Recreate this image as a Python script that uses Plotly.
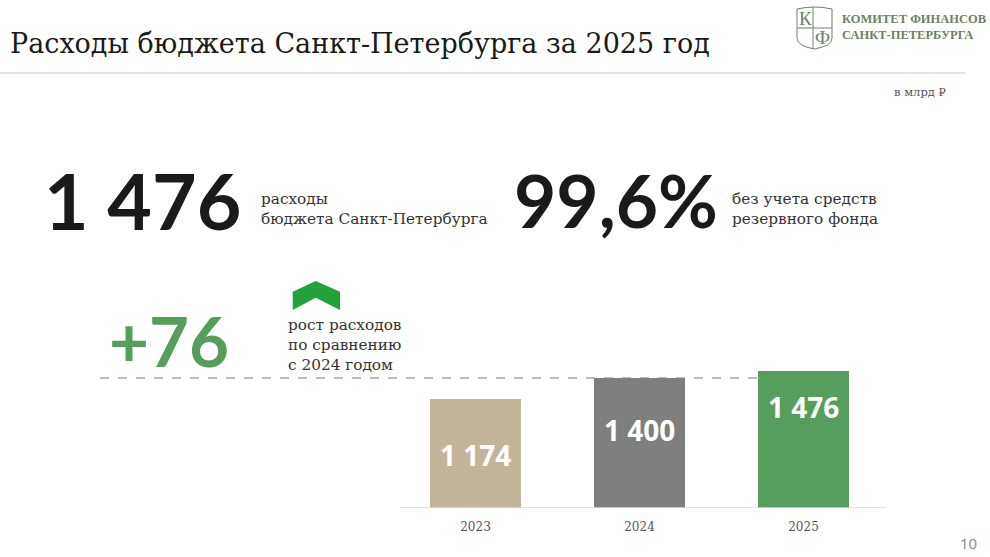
import plotly.graph_objects as go

# data
years = ["2023", "2024", "2025"]
spending = [1174, 1400, 1476]
bar_labels = ["1 174", "1 400", "1 476"]
bar_colors = ["#c3b59b", "#7f7f7f", "#569e5b"]
label_shift = [-56, -52, -36]

total_text = "1 476"
share_text = "99,6%"
growth_text = "+76"

W, H = 990, 557
BOTTOM = 508          # pixel row of the bar baseline
PX_PER_UNIT = 130 / 1400
UNIT_PX = 164         # pixels between bar centres
FIRST_CENTRE = 475.5


def px(x):
    return x / W


def py(y):
    return (BOTTOM - y) / BOTTOM


def cat_x(x_pixel):
    return (x_pixel - FIRST_CENTRE) / UNIT_PX


SERIF = "DejaVu Serif"
SANS = "Lato"

fig = go.Figure()

fig.add_trace(go.Bar(
    x=years,
    y=spending,
    marker=dict(color=bar_colors, line=dict(width=0)),
    width=0.555,
    hoverinfo="skip",
))

# labels inside bars
for i, (val, lab, sh) in enumerate(zip(spending, bar_labels, label_shift)):
    fig.add_annotation(
        x=i, y=val, text=lab, showarrow=False, yshift=sh, xanchor="center", yanchor="middle",
        font=dict(family="Open Sans", size=28, color="white", weight="bold"),
    )

# dashed line at the 2024 level
fig.add_shape(type="line", x0=cat_x(100), x1=2 - 0.555 / 2, y0=spending[1], y1=spending[1],
              line=dict(color="#a8a8a8", width=1.5, dash="dash"), layer="below")

# baseline
fig.add_shape(type="line", x0=cat_x(400), x1=cat_x(886), y0=0, y1=0,
              line=dict(color="#ddd8cc", width=1.5), layer="above")


def note(x, y, text, font, xanchor="left", align="left"):
    fig.add_annotation(x=px(x), y=py(y), xref="paper", yref="paper", xanchor=xanchor, yanchor="middle",
                       text=text, showarrow=False, align=align, font=font)


# header
note(8, 44, "Расходы бюджета Санкт-Петербурга за 2025 год",
     dict(family=SERIF, size=27, color="#1a1a1a"))
fig.add_shape(type="line", xref="paper", yref="paper", x0=0, x1=px(965), y0=py(73), y1=py(73),
              line=dict(color="#cdc9bc", width=1))

# logo
logo_col = "#6f8163"
fig.add_shape(type="path", xref="paper", yref="paper",
              path=("M {a},{b} Q {c},{d} {e},{b} L {e},{f} Q {e},{g} {c},{h} Q {a},{g} {a},{f} Z").format(
                  a=px(797), b=py(9), c=px(814.5), d=py(5), e=px(832), f=py(38), g=py(46), h=py(49)),
              line=dict(color=logo_col, width=1))
fig.add_shape(type="line", xref="paper", yref="paper", x0=px(813), x1=px(813), y0=py(7), y1=py(48.5),
              line=dict(color=logo_col, width=1))
fig.add_shape(type="line", xref="paper", yref="paper", x0=px(797), x1=px(832), y0=py(28), y1=py(28),
              line=dict(color=logo_col, width=1))
note(805, 18, "К", dict(family="Liberation Serif", size=19, color=logo_col), xanchor="center")
note(822.5, 38, "Ф", dict(family="Liberation Serif", size=19, color=logo_col), xanchor="center")
note(840, 27, "<b>КОМИТЕТ ФИНАНСОВ<br>САНКТ-ПЕТЕРБУРГА</b>",
     dict(family="Liberation Serif", size=12.5, color=logo_col))

note(948, 92, "в млрд ₽", dict(family=SERIF, size=11.5, color="#555555"), xanchor="right", align="right")

# headline figures
note(42, 200, total_text, dict(family=SANS, size=77, color="#1a1a1a", weight="bold"))
note(259, 209, "расходы<br>бюджета Санкт-Петербурга", dict(family=SERIF, size=15.3, color="#333333"))
note(512, 200, share_text, dict(family=SANS, size=73, color="#1a1a1a", weight="bold"))
note(730, 209, "без учета средств<br>резервного фонда", dict(family=SERIF, size=15.3, color="#333333"))

# growth block
note(107, 341, growth_text, dict(family=SANS, size=69, color="#569e5b", weight="bold"))
fig.add_shape(type="path", xref="paper", yref="paper",
              path="M {} {} L {} {} L {} {} L {} {} L {} {} L {} {} Z".format(
                  px(292.7), py(291.7), px(315.7), py(281), px(340), py(291.7), px(340), py(310),
                  px(315.7), py(297.7), px(292.7), py(310)),
              fillcolor="#22a33a", line=dict(width=0))
note(286, 345, "рост расходов<br>по сравнению<br>с 2024 годом", dict(family=SERIF, size=15.3, color="#333333"))

note(979, 543, "10", dict(family="Noto Sans", size=15, color="#8a8a8a"), xanchor="right", align="right")

fig.update_layout(
    width=W, height=H,
    margin=dict(l=0, r=0, t=0, b=H - BOTTOM),
    paper_bgcolor="white", plot_bgcolor="white",
    showlegend=False,
    xaxis=dict(type="category", range=[cat_x(0), cat_x(W)], showgrid=False, zeroline=False,
               showline=False, ticks="", ticklabelstandoff=10,
               tickfont=dict(family=SERIF, size=12, color="#555555"), fixedrange=True),
    yaxis=dict(range=[0, BOTTOM / PX_PER_UNIT], visible=False, fixedrange=True),
)

fig.write_html("out.html", config={"displayModeBar": False},
               post_script="document.body.style.margin='0';")
